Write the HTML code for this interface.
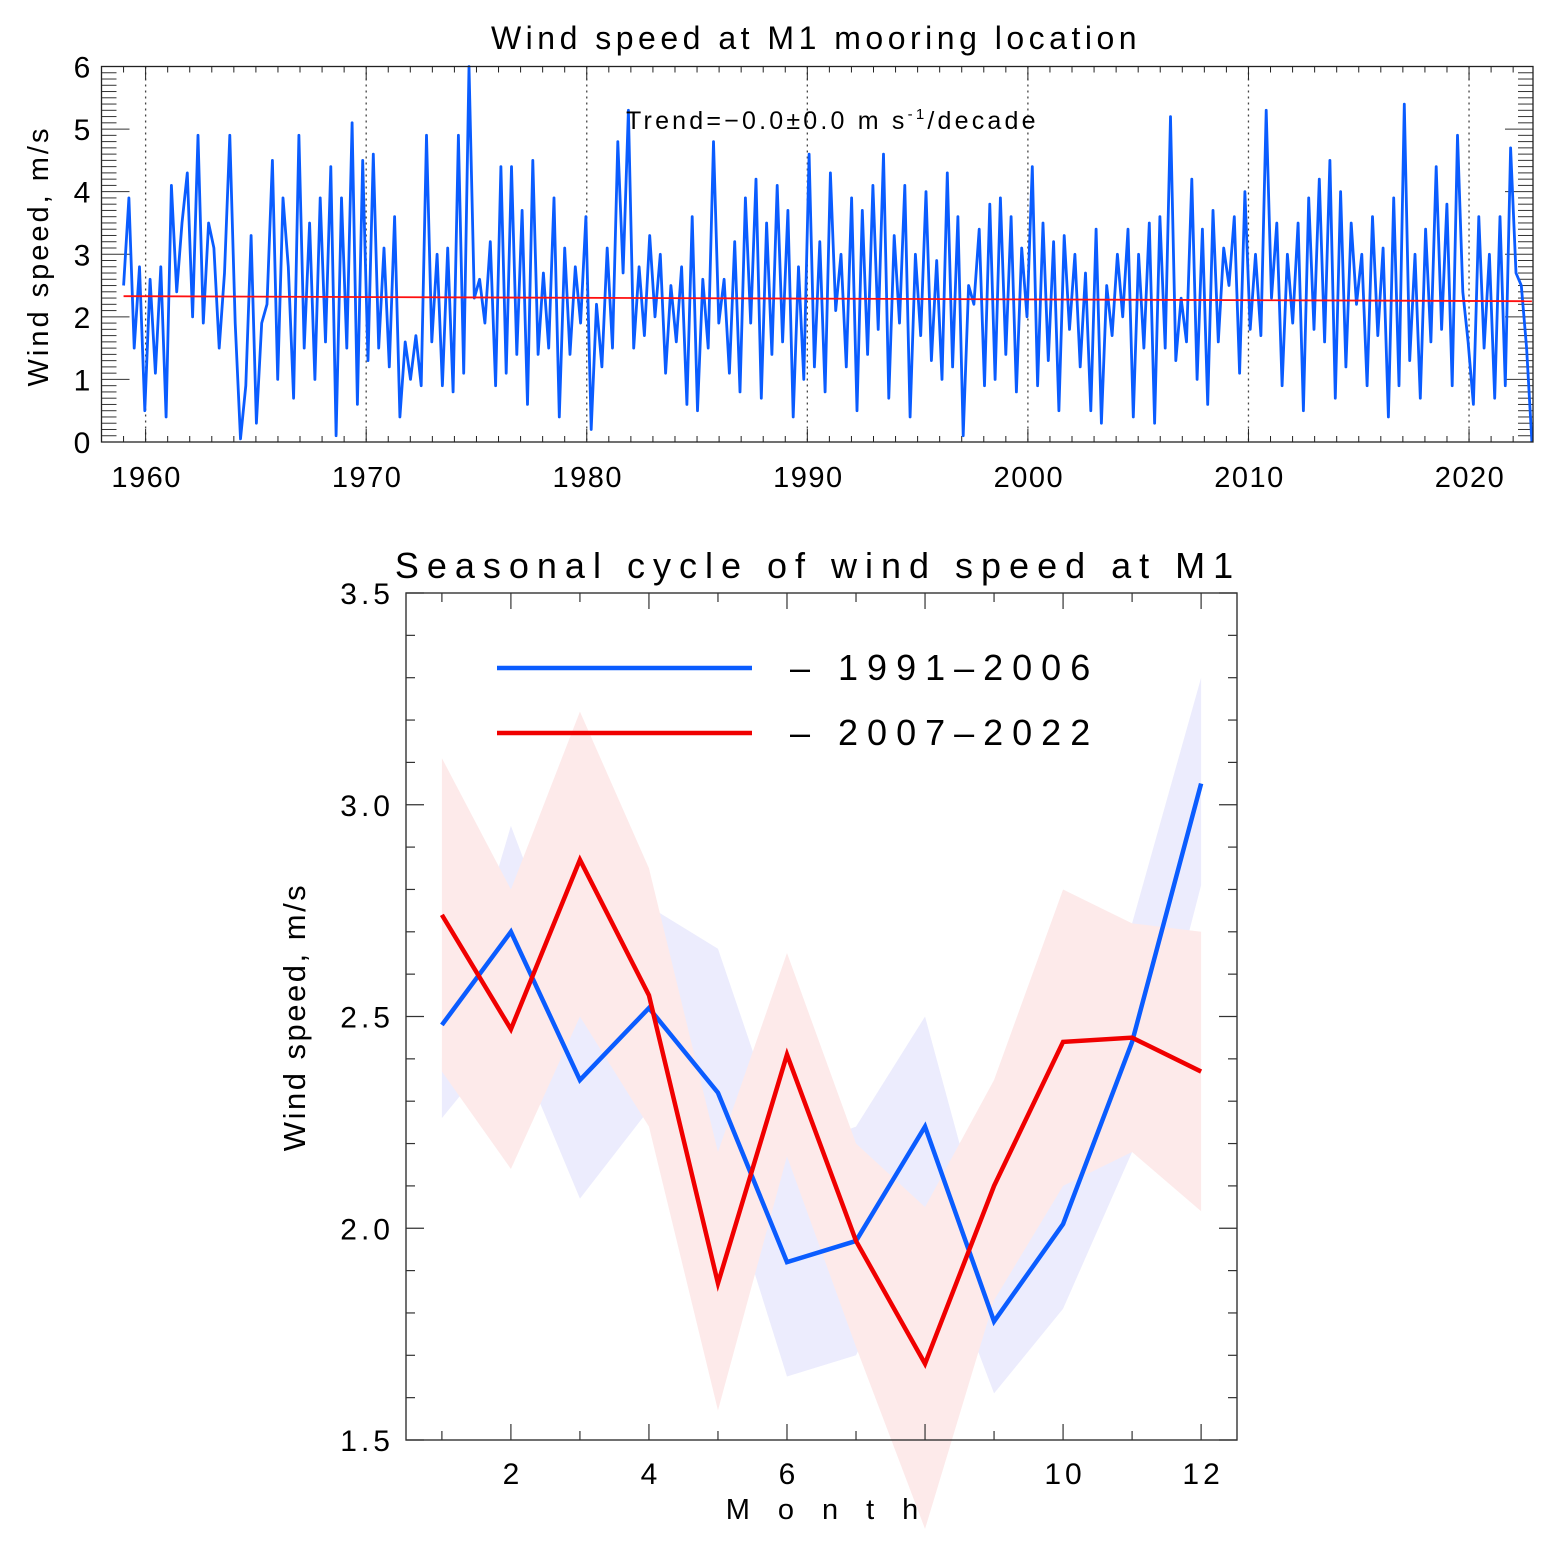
<!DOCTYPE html>
<html><head><meta charset="utf-8"><style>
body{margin:0;background:#fff;}
svg{display:block;font-family:"Liberation Sans","DejaVu Sans",sans-serif;}
</style></head><body>
<svg id="fig" width="1550" height="1542" viewBox="0 0 1550 1542">
<g id="topchart"></g>
<g id="botchart"></g>
</svg>
<script>
// ---- Top chart data (roughly quarterly samples from 1959.0 to ~2022.85) ----
const tsStart = 1959.0;
const tsEnd = 2022.85;
const windSpeed = [
2.5,3.9,1.5,2.8, 0.5,2.6,1.1,2.8, 0.4,4.1,2.4,3.5, 4.3,2.0,4.9,1.9,
3.5,3.1,1.5,2.7, 4.9,1.9,0.05,0.9, 3.3,0.3,1.9,2.2, 4.5,1.0,3.9,2.8,
0.7,4.9,1.5,3.5, 1.0,3.9,1.6,4.4, 0.1,3.9,1.5,5.1, 0.6,4.5,1.3,4.6,
1.5,3.1,1.2,3.6, 0.4,1.6,1.0,1.7, 0.9,4.9,1.6,3.0, 0.9,3.1,0.8,4.9,
1.1,6.0,2.3,2.6, 1.9,3.2,0.9,4.4, 1.1,4.4,1.4,3.7, 0.6,4.5,1.4,2.7,
1.5,3.9,0.4,3.1, 1.4,2.8,1.9,3.6, 0.2,2.2,1.2,3.1, 1.5,4.8,2.7,5.3,
1.5,2.8,1.7,3.3, 2.0,3.0,1.1,2.5, 1.6,2.8,0.6,3.6, 0.5,2.6,1.5,4.8,
1.9,2.6,1.1,3.2, 0.8,3.9,1.9,4.2, 0.7,3.5,1.4,4.1, 1.6,3.7,0.4,2.8,
1.0,4.6,1.2,3.2, 0.8,4.3,2.1,3.0, 1.2,3.9,0.5,3.7, 1.4,4.1,1.8,4.6,
0.7,3.3,1.9,4.1, 0.4,3.0,1.7,4.0, 1.3,2.9,1.0,4.3, 1.2,3.6,0.1,2.5,
2.2,3.4,0.9,3.8, 1.0,3.9,1.4,3.6, 0.8,3.1,2.0,4.4, 0.9,3.5,1.3,3.2,
0.5,3.3,1.8,3.0, 1.2,2.7,0.5,3.4, 0.3,2.5,1.7,3.0, 2.0,3.4,0.4,3.0,
1.5,3.5,0.3,3.6, 1.5,5.2,1.3,2.3, 1.6,4.2,1.0,3.4, 0.6,3.7,1.6,3.1,
2.5,3.6,1.1,4.0, 1.8,3.0,1.7,5.3, 2.3,3.5,0.9,3.0, 1.9,3.5,0.5,3.9,
1.8,4.2,1.6,4.5, 0.7,4.0,1.2,3.5, 2.2,3.0,0.9,3.6, 1.7,3.1,0.4,3.9,
0.9,5.4,1.3,3.0, 0.7,3.4,1.6,4.4, 1.8,3.8,0.9,4.9, 2.4,1.6,0.6,3.6,
1.5,3.0,0.7,3.6, 0.9,4.7,2.7,2.5, 1.5,0.0
];
const trendStart = 2.33;
const trendEnd = 2.25;
const yTicksTop = [0,1,2,3,4,5,6];
const xTicksTop = [1960,1970,1980,1990,2000,2010,2020];

// ---- Bottom chart data ----
const months = [1,2,3,4,5,6,7,8,9,10,11,12];
const blueMean = [2.48,2.70,2.35,2.52,2.32,1.92,1.97,2.24,1.78,2.01,2.44,3.05];
const blueUpper = [2.40,2.95,2.52,2.76,2.66,2.18,2.24,2.50,1.90,2.13,2.72,3.30];
const blueLower = [2.26,2.46,2.07,2.28,2.17,1.65,1.70,2.04,1.61,1.81,2.18,2.81];
const redMean = [2.74,2.47,2.87,2.55,1.87,2.41,1.97,1.68,2.10,2.44,2.45,2.37];
const redUpper = [3.11,2.80,3.22,2.85,2.18,2.65,2.20,2.05,2.35,2.80,2.72,2.70];
const redLower = [2.37,2.14,2.50,2.24,1.57,2.17,1.72,1.29,1.83,2.10,2.18,2.04];
const yTicksBot = [1.5,2.0,2.5,3.0,3.5];
const yTickLabelsBot = ["1.5","2.0","2.5","3.0","3.5"];
const xTicksBot = [2,4,6,10,12];

const NS="http://www.w3.org/2000/svg";
function mk(parent,tag,attrs){const e=document.createElementNS(NS,tag);for(const k in attrs)e.setAttribute(k,attrs[k]);parent.appendChild(e);return e;}

// ---------- TOP ----------
const topG=document.getElementById('topchart');
const TL=101.5,TR=1533,TT=66.5,TB=442;
const tx=y=>TL+(y-1958.0)*(TR-TL)/(2022.9-1958.0);
const ty=v=>TB-(v-0)*(TB-TT)/6;
let t=mk(topG,'text',{x:816,y:49,'font-size':32,'text-anchor':'middle','letter-spacing':'4.5'});t.textContent='Wind speed at M1 mooring location';

xTicksTop.forEach(yr=>{
  const l=mk(topG,'line',{x1:tx(yr),x2:tx(yr),y1:TT,y2:TB,stroke:'#444','stroke-width':1.3,'stroke-dasharray':'2,4'});
  
  
  const lb=mk(topG,'text',{x:tx(yr)+1,y:487,'font-size':29,'text-anchor':'middle','letter-spacing':'1.5'});lb.textContent=yr;
  
  
});
for(let yr=1958;yr<=2022;yr++){
  const big=yr%10===0;
  mk(topG,'line',{x1:tx(yr),x2:tx(yr),y1:TB,y2:TB-(big?13:6),stroke:'#222','stroke-width':1});
  mk(topG,'line',{x1:tx(yr),x2:tx(yr),y1:TT,y2:TT+(big?13:6),stroke:'#222','stroke-width':1});
}
for(let i=0;i<=60;i++){
  const v=i*0.1,big=i%10===0;
  mk(topG,'line',{x1:TL,x2:TL+(big?28:15),y1:ty(v),y2:ty(v),stroke:'#333','stroke-width':1});
  mk(topG,'line',{x1:TR,x2:TR-(big?28:15),y1:ty(v),y2:ty(v),stroke:'#333','stroke-width':1});
}
yTicksTop.forEach(v=>{
  const lb=mk(topG,'text',{x:82,y:ty(v)+11,'font-size':30,'text-anchor':'middle'});lb.textContent=v;
  
  
});
t=mk(topG,'text',{x:0,y:0,'font-size':29,'text-anchor':'middle','letter-spacing':'3',transform:'translate(48,256) rotate(-90)'});t.textContent='Wind speed, m/s';

const tsStep=(tsEnd-tsStart)/(windSpeed.length-1);
let pts=windSpeed.map((v,i)=>tx(tsStart+i*tsStep).toFixed(1)+','+ty(v).toFixed(1)).join(' ');
let pl=mk(topG,'polyline',{points:pts,fill:'none',stroke:'#0a5cff','stroke-width':2.8,'stroke-linejoin':'round'});


let tl=mk(topG,'line',{x1:tx(tsStart),x2:tx(tsEnd),y1:ty(trendStart),y2:ty(trendEnd),stroke:'#ff1010','stroke-width':1.8});


t=mk(topG,'text',{x:626,y:129,'font-size':25,'letter-spacing':'3.2'});
t.innerHTML='Trend=−0.0±0.0 m s<tspan dy="-10" font-size="15">-1</tspan><tspan dy="10">/decade</tspan>';

let fr=mk(topG,'rect',{x:TL,y:TT,width:TR-TL,height:TB-TT,fill:'none',stroke:'#222','stroke-width':1.3});


// ---------- BOTTOM ----------
const botG=document.getElementById('botchart');
const BL=406,BR=1237,BT=593,BB=1440;
const bx=m=>BL+(m-0.48)*(BR-BL)/12.04;
const by=v=>BB-(v-1.5)*(BB-BT)/2.0;
t=mk(botG,'text',{x:818,y:578,'font-size':36,'text-anchor':'middle','letter-spacing':'8'});t.textContent='Seasonal cycle of wind speed at M1';

function band(up,lo,col,name){
  const p=months.map((m,i)=>bx(m)+','+by(up[i])).concat(months.slice().reverse().map((m,j)=>{const i=months.length-1-j;return bx(m)+','+by(lo[i]);})).join(' ');
  const e=mk(botG,'polygon',{points:p,fill:col});
  
  
}
band(blueUpper,blueLower,'#ececfd','band-1991-2006');
band(redUpper,redLower,'#fdeaea','band-2007-2022');
for(let i=0;i<=20;i++){
  const v=1.5+i*0.1,big=i%5===0;
  mk(botG,'line',{x1:BL,x2:BL+(big?18:9),y1:by(v),y2:by(v),stroke:'#333','stroke-width':1.2});
  mk(botG,'line',{x1:BR,x2:BR-(big?18:9),y1:by(v),y2:by(v),stroke:'#333','stroke-width':1.2});
}
for(let m=1;m<=12;m++){
  const big=m%2===0;
  mk(botG,'line',{x1:bx(m),x2:bx(m),y1:BB,y2:BB-(big?16:9),stroke:'#333','stroke-width':1.2});
  mk(botG,'line',{x1:bx(m),x2:bx(m),y1:BT,y2:BT+(big?16:9),stroke:'#333','stroke-width':1.2});
}
yTicksBot.forEach((v,i)=>{
  const lb=mk(botG,'text',{x:394,y:by(v)+11,'font-size':30,'text-anchor':'end','letter-spacing':'4'});lb.textContent=yTickLabelsBot[i];
  
  
});
xTicksBot.forEach(m=>{
  const lb=mk(botG,'text',{x:bx(m)+2,y:1484,'font-size':30,'text-anchor':'middle','letter-spacing':'4'});lb.textContent=m;
  
  
});
t=mk(botG,'text',{x:836,y:1519,'font-size':29,'text-anchor':'middle','letter-spacing':'28'});t.textContent='Month';

t=mk(botG,'text',{x:0,y:0,'font-size':31,'text-anchor':'middle','letter-spacing':'2.5',transform:'translate(305,1017) rotate(-90)'});t.textContent='Wind speed, m/s';

function drawLine(arr,col,name){
  const e=mk(botG,'polyline',{points:months.map((m,i)=>bx(m)+','+by(arr[i])).join(' '),fill:'none',stroke:col,'stroke-width':4.5,'stroke-linejoin':'miter'});
  
  
}
drawLine(blueMean,'#0a5cff','line-1991-2006');
drawLine(redMean,'#f00000','line-2007-2022');
let lg=mk(botG,'g',{});

mk(lg,'line',{x1:497,x2:752,y1:668,y2:668,stroke:'#0a5cff','stroke-width':4.5});
mk(lg,'line',{x1:497,x2:752,y1:733,y2:733,stroke:'#f00000','stroke-width':4.5});
t=mk(lg,'text',{x:790,y:680,'font-size':36,'letter-spacing':'9'});t.textContent='–  1991–2006';

t=mk(lg,'text',{x:790,y:745,'font-size':36,'letter-spacing':'9'});t.textContent='–  2007–2022';

fr=mk(botG,'rect',{x:BL,y:BT,width:BR-BL,height:BB-BT,fill:'none',stroke:'#333','stroke-width':1.4});

</script>
</body></html>
